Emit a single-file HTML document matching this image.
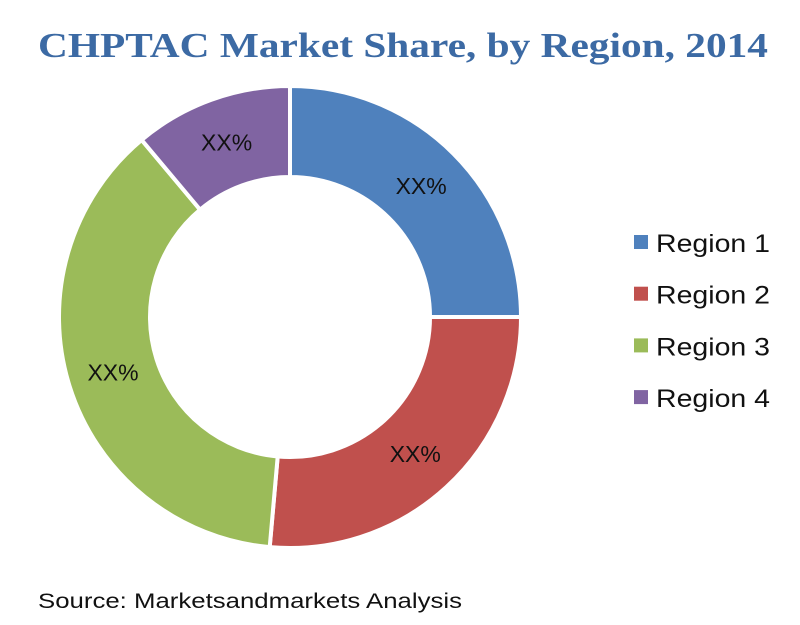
<!DOCTYPE html>
<html><head><meta charset="utf-8">
<style>
body{margin:0;background:#fff;width:800px;height:625px;overflow:hidden}
svg{display:block}
</style></head>
<body>
<svg id="chart" width="800" height="625" viewBox="0 0 800 625">
<text x="38" y="57" font-family="Liberation Serif, serif" font-weight="bold" font-size="35" fill="#3c6aa4" textLength="730" lengthAdjust="spacingAndGlyphs">CHPTAC Market Share, by Region, 2014</text>
<g id="slices"></g>
<g id="legend"></g>
<text x="38" y="608" font-family="Liberation Sans, sans-serif" font-size="21" fill="#111" textLength="424" lengthAdjust="spacingAndGlyphs">Source: Marketsandmarkets Analysis</text>
</svg>
<script>
const categories = ["Region 1","Region 2","Region 3","Region 4"];
const values = [25, 26.4, 37.5, 11.1];
const labels = ["XX%","XX%","XX%","XX%"];
const colors = ["#4f81bd","#c0504d","#9bbb59","#8064a2"];
const NS="http://www.w3.org/2000/svg";
const cx=290, cy=317, R=231, r=140;
const total=values.reduce((a,b)=>a+b,0);
function pt(a,rad){return [cx+rad*Math.sin(a), cy-rad*Math.cos(a)];}
const gs=document.getElementById('slices');
let acc=0;
values.forEach((v,i)=>{
  const a0=acc/total*2*Math.PI; acc+=v; const a1=acc/total*2*Math.PI;
  const large=(a1-a0)>Math.PI?1:0;
  const [x0,y0]=pt(a0,R),[x1,y1]=pt(a1,R),[x2,y2]=pt(a1,r),[x3,y3]=pt(a0,r);
  const p=document.createElementNS(NS,'path');
  p.setAttribute('d',`M${x0},${y0}A${R},${R} 0 ${large} 1 ${x1},${y1}L${x2},${y2}A${r},${r} 0 ${large} 0 ${x3},${y3}Z`);
  p.setAttribute('fill',colors[i]);p.setAttribute('stroke','#fff');p.setAttribute('stroke-width','4');
  
  
  gs.appendChild(p);
  const am=(a0+a1)/2; const [lx,ly]=pt(am,(R+r)/2);
  const t=document.createElementNS(NS,'text');
  t.setAttribute('x',lx);t.setAttribute('y',ly+8);t.setAttribute('text-anchor','middle');
  t.setAttribute('font-family','Liberation Sans, sans-serif');t.setAttribute('font-size','23');t.setAttribute('fill','#111');
  t.textContent=labels[i];
  
  
  gs.appendChild(t);
});
const gl=document.getElementById('legend');
categories.forEach((c,i)=>{
  const y=243+i*51.7;
  const s=document.createElementNS(NS,'rect');
  s.setAttribute('x',634);s.setAttribute('y',y-8);s.setAttribute('width',14);s.setAttribute('height',14);s.setAttribute('fill',colors[i]);
  
  
  gl.appendChild(s);
  const t=document.createElementNS(NS,'text');
  t.setAttribute('x',656);t.setAttribute('y',y+9);
  t.setAttribute('font-family','Liberation Sans, sans-serif');t.setAttribute('font-size','25');t.setAttribute('fill','#111');
  t.setAttribute('textLength','114');t.setAttribute('lengthAdjust','spacingAndGlyphs');
  t.textContent=c;
  
  
  gl.appendChild(t);
});
</script>
</body></html>
